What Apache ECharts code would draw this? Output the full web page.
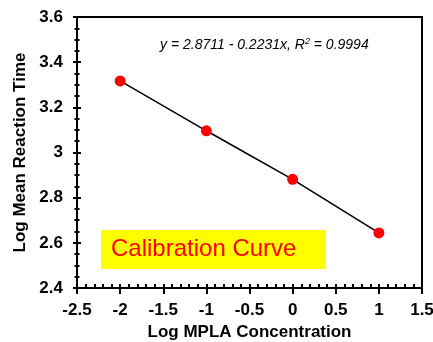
<!DOCTYPE html>
<html>
<head>
<meta charset="utf-8">
<script src="https://cdn.jsdelivr.net/npm/echarts@6/dist/echarts.min.js"></script>
<style>
  html, body { margin: 0; padding: 0; background: #fff; }
  #chart { width: 433px; height: 342px; }
</style>
</head>
<body>
<div id="chart"></div>
<script>
  // data
  var logConc = [-2, -1, 0, 1];
  var logTime = [3.317, 3.096, 2.881, 2.644];
  var xTicks = [-2.5, -2, -1.5, -1, -0.5, 0, 0.5, 1, 1.5];
  var yTicks = [2.4, 2.6, 2.8, 3, 3.2, 3.4, 3.6];
  var equation = 'y = 2.8711 - 0.2231x, ';
  var r2Text = '0.9994';

  var font = '"Liberation Sans", Arial, sans-serif';
  var chart = echarts.init(document.getElementById('chart'));

  var pts = logConc.map(function (x, i) { return [x, logTime[i]]; });

  // 两个重叠的轴：一个刻度朝外，一个刻度朝内，拼成穿过轴线的刻度
  function xAx(inside, show) {
    return {
      type: 'value', min: xTicks[0], max: xTicks[xTicks.length - 1], interval: 0.5,
      position: 'bottom',
      axisLine: { show: true, onZero: false, lineStyle: { color: '#000', width: 2 } },
      axisTick: { show: true, inside: inside, length: inside ? 4 : 6, lineStyle: { color: '#000', width: 2 } },
      minorTick: { show: inside, splitNumber: 5, length: 4, lineStyle: { color: '#000', width: 2 } },
      splitLine: { show: false },
      axisLabel: {
        show: show, color: '#000', fontFamily: font, fontWeight: 'bold', fontSize: 17, margin: 14
      },
      name: show ? 'Log MPLA Concentration' : '',
      nameLocation: 'middle', nameGap: 36,
      nameTextStyle: { color: '#000', fontFamily: font, fontWeight: 'bold', fontSize: 17 }
    };
  }
  function yAx(inside, show) {
    return {
      type: 'value', min: yTicks[0], max: yTicks[yTicks.length - 1], interval: 0.2,
      position: 'left',
      axisLine: { show: true, onZero: false, lineStyle: { color: '#000', width: 2 } },
      axisTick: { show: true, inside: inside, length: 4, lineStyle: { color: '#000', width: 2 } },
      minorTick: { show: true, splitNumber: 4, length: 2.5, lineStyle: { color: '#000', width: 2 } },
      splitLine: { show: false },
      axisLabel: {
        show: show, color: '#000', fontFamily: font, fontWeight: 'bold', fontSize: 17, margin: 14,
        formatter: function (v) { return String(Math.round(v * 10) / 10); }
      },
      name: show ? 'Log Mean Reaction Time' : '',
      nameLocation: 'middle', nameGap: 48,
      nameTextStyle: { color: '#000', fontFamily: font, fontWeight: 'bold', fontSize: 17 }
    };
  }

  var option = {
    animation: false,
    grid: {
      left: 77, right: 11, top: 17, bottom: 54, outerBoundsMode: 'none',
      show: true, borderColor: '#000', borderWidth: 2
    },
    xAxis: [xAx(false, true), xAx(true, false)],
    yAxis: [yAx(false, true), yAx(true, false)],
    graphic: [
      {
        type: 'rect', left: 101, top: 230, z: 5,
        shape: { width: 225, height: 39 },
        style: { fill: '#ffff00' }
      },
      {
        type: 'text', z: 6,
        style: { x: 111, y: 249, verticalAlign: 'middle', text: 'Calibration Curve', fill: '#ff0000', font: '24px ' + font }
      },
      {
        type: 'text', z: 6,
        style: {
          x: 160, y: 45, verticalAlign: 'middle',
          text: '{a|' + equation + 'R}{s|2}{a| = ' + r2Text + '}',
          rich: {
            a: { fill: '#000', fontFamily: font, fontStyle: 'italic', fontSize: 14 },
            s: { fill: '#000', fontFamily: font, fontStyle: 'italic', fontSize: 9, verticalAlign: 'top', padding: [0, 0, 7, 0] }
          }
        }
      }
    ],
    series: [{
      type: 'line',
      data: pts,
      xAxisIndex: 0, yAxisIndex: 0,
      symbol: 'circle', symbolSize: 11,
      itemStyle: { color: '#ff0000' },
      lineStyle: { color: '#000', width: 1.6 },
      z: 10
    }]
  };
  chart.setOption(option);
</script>
</body>
</html>
